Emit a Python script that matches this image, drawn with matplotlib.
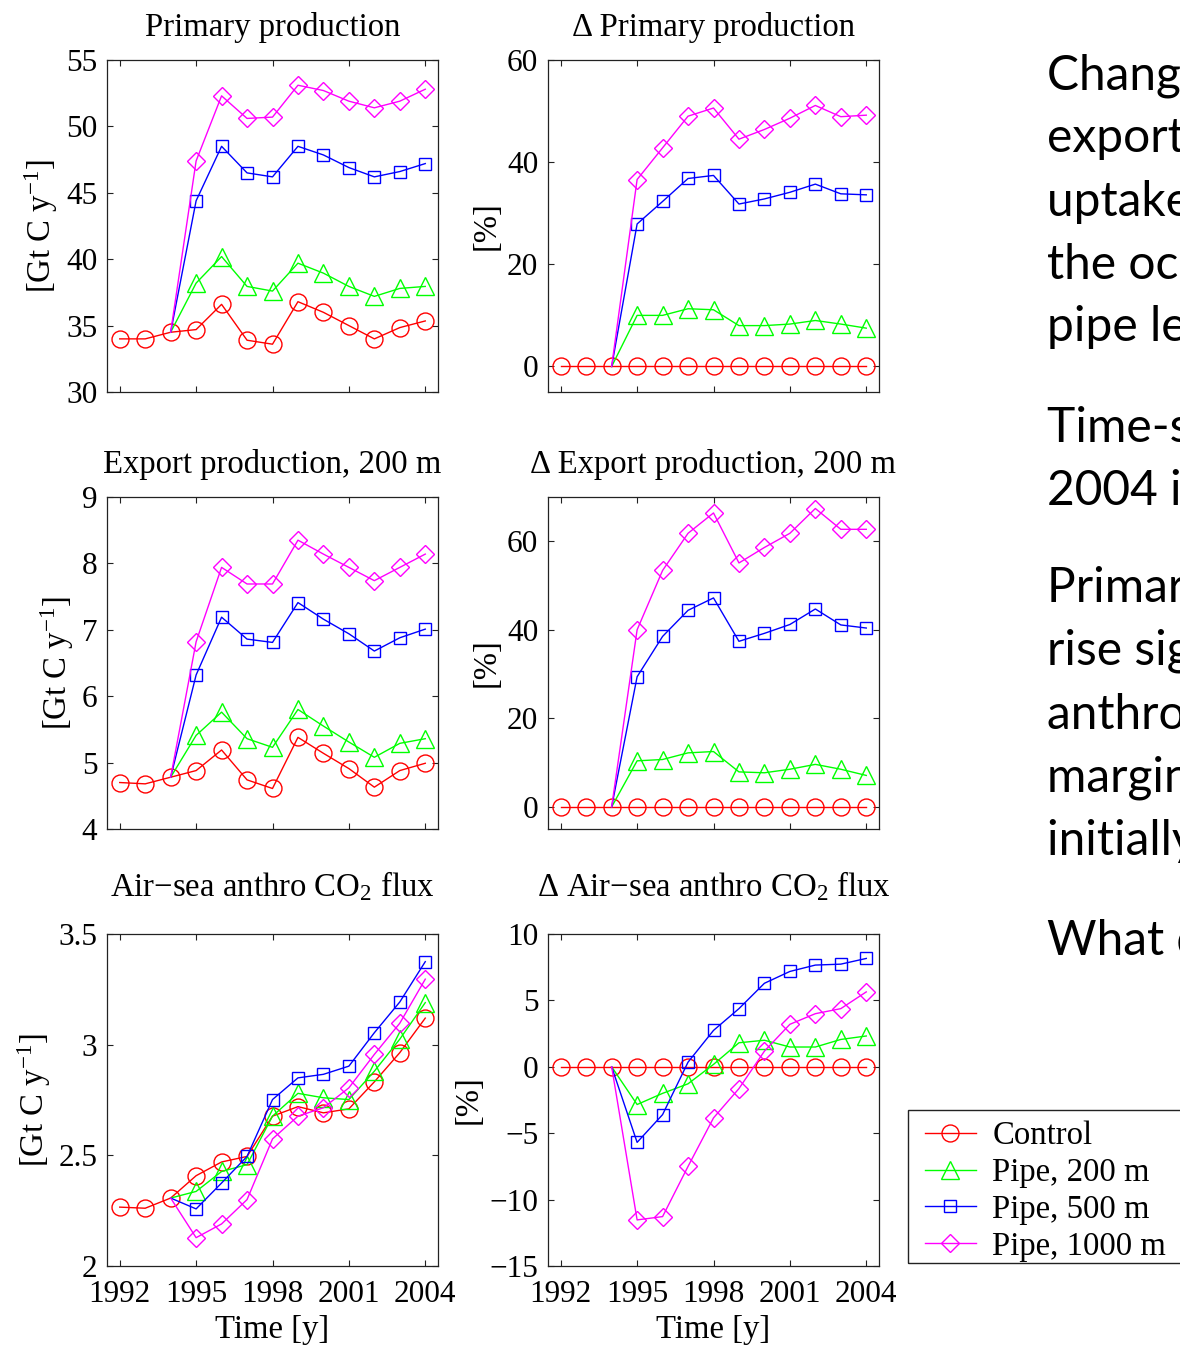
import matplotlib
matplotlib.use("Agg")
import matplotlib.pyplot as plt
from matplotlib.lines import Line2D
from matplotlib.patches import Rectangle
from matplotlib.ticker import FuncFormatter

# ---------------------------------------------------------------- data
years = list(range(1992, 2005))
pipe_years = list(range(1994, 2005))   # pipes switch on after 1994

series_names = ["Control", "Pipe, 200 m", "Pipe, 500 m", "Pipe, 1000 m"]

# Primary production [Gt C / y]
pp_control = [34.0, 34.0, 34.5, 34.7, 36.6, 33.9, 33.6, 36.8, 36.0, 35.0, 34.0, 34.85, 35.35]
pp_200 = [34.5, 38.2, 40.2, 37.95, 37.6, 39.7, 38.95, 37.95, 37.2, 37.8, 37.95]
pp_500 = [34.5, 44.4, 48.5, 46.5, 46.2, 48.5, 47.85, 46.9, 46.2, 46.6, 47.2]
pp_1000 = [34.5, 47.4, 52.3, 50.6, 50.7, 53.1, 52.7, 51.9, 51.4, 51.9, 52.8]

# Change in primary production [%]
dpp_control = [0.0] * 13
dpp_200 = [0.0, 10.0, 10.0, 11.3, 11.1, 8.0, 8.0, 8.3, 9.0, 8.3, 7.5]
dpp_500 = [0.0, 27.9, 32.3, 36.8, 37.4, 31.8, 32.8, 34.1, 35.7, 33.8, 33.6]
dpp_1000 = [0.0, 36.6, 42.8, 49.0, 50.6, 44.5, 46.4, 48.6, 51.1, 48.9, 49.2]

# Export production at 200 m [Gt C / y]
ep_control = [4.70, 4.68, 4.78, 4.88, 5.19, 4.74, 4.61, 5.38, 5.14, 4.91, 4.63, 4.88, 4.99]
ep_200 = [4.78, 5.41, 5.76, 5.36, 5.23, 5.80, 5.55, 5.31, 5.08, 5.29, 5.36]
ep_500 = [4.78, 6.32, 7.19, 6.86, 6.81, 7.41, 7.16, 6.94, 6.68, 6.88, 7.01]
ep_1000 = [4.78, 6.82, 7.94, 7.69, 7.69, 8.35, 8.14, 7.94, 7.74, 7.94, 8.14]

# Change in export production [%]
dep_control = [0.0] * 13
dep_200 = [0.0, 10.4, 10.7, 12.2, 12.5, 7.9, 7.7, 8.5, 9.6, 8.5, 7.1]
dep_500 = [0.0, 29.4, 38.5, 44.4, 47.2, 37.4, 39.2, 41.2, 44.7, 41.1, 40.4]
dep_1000 = [0.0, 40.0, 53.4, 61.8, 66.4, 55.1, 58.6, 61.8, 67.4, 62.7, 62.7]

# Air-sea anthropogenic CO2 flux [Gt C / y]
fx_control = [2.266, 2.261, 2.307, 2.408, 2.470, 2.495, 2.677, 2.720, 2.692, 2.710, 2.832, 2.964, 3.120]
fx_200 = [2.307, 2.337, 2.427, 2.458, 2.677, 2.780, 2.760, 2.752, 2.880, 3.025, 3.190]
fx_500 = [2.307, 2.258, 2.375, 2.495, 2.752, 2.850, 2.866, 2.903, 3.054, 3.193, 3.375]
fx_1000 = [2.307, 2.128, 2.190, 2.300, 2.574, 2.677, 2.715, 2.805, 2.956, 3.097, 3.296]

# Change in air-sea anthropogenic CO2 flux [%]
dfx_control = [0.0] * 13
dfx_200 = [0.0, -2.84, -2.0, -1.28, 0.18, 1.81, 2.0, 1.49, 1.49, 2.06, 2.32]
dfx_500 = [0.0, -5.69, -3.6, 0.35, 2.74, 4.38, 6.29, 7.18, 7.66, 7.73, 8.16]
dfx_1000 = [0.0, -11.53, -11.28, -7.5, -3.85, -1.64, 1.18, 3.2, 4.0, 4.38, 5.64]

x_ticks = [1992, 1995, 1998, 2001, 2004]

# Slide text beside the figure
slide_lines = [
    "Changes in primary and",
    "export production, and CO\u2082",
    "uptake by the ocean for",
    "the ocean-wide array at each",
    "pipe length",
    "Time-series from 1992 to",
    "2004 inclusive",
    "Primary and export production",
    "rise significantly, but",
    "anthropogenic CO\u2082 uptake only",
    "marginally (and it is",
    "initially reduced)",
    "What does this mean?",
]

# ---------------------------------------------------------------- style
plt.rcParams.update({
    "font.family": ["Liberation Serif", "DejaVu Serif"],
    "mathtext.fontset": "custom",
    "mathtext.rm": "Liberation Serif",
    "mathtext.it": "Liberation Serif:italic",
    "mathtext.bf": "Liberation Serif:bold",
    "axes.unicode_minus": True,
})

W, H = 1180, 1345
fig = plt.figure(figsize=(W / 100, H / 100), dpi=100)

styles = [
    dict(color="#ff0000", marker="o", ms=12.2),
    dict(color="#00ff00", marker="^", ms=12.5),
    dict(color="#0000ff", marker="s", ms=9.1),
    dict(color="#ff00ff", marker="D", ms=9.4),
]
LW, MEW = 1.0, 1.0
TICK_FS, LABEL_FS = 22.5, 23.6

col_left = [107, 548]
row_top = [60, 497, 934]
AX_W, AX_H = 331, 332

unit_label = r"[Gt C y$^{-1}$]"
panels = [
    ("Primary production", unit_label, (30, 55), [30, 35, 40, 45, 50, 55],
     pp_control, [pp_200, pp_500, pp_1000]),
    ("\u0394 Primary production", "[%]", (-5, 60), [0, 20, 40, 60],
     dpp_control, [dpp_200, dpp_500, dpp_1000]),
    ("Export production, 200 m", unit_label, (4, 9), [4, 5, 6, 7, 8, 9],
     ep_control, [ep_200, ep_500, ep_1000]),
    ("\u0394 Export production, 200 m", "[%]", (-5, 70), [0, 20, 40, 60],
     dep_control, [dep_200, dep_500, dep_1000]),
    ("Air\u2212sea anthro CO$_2$ flux", unit_label, (2, 3.5), [2, 2.5, 3, 3.5],
     fx_control, [fx_200, fx_500, fx_1000]),
    ("\u0394 Air\u2212sea anthro CO$_2$ flux", "[%]", (-15, 10), [-15, -10, -5, 0, 5, 10],
     dfx_control, [dfx_200, dfx_500, dfx_1000]),
]

tick_fmt = FuncFormatter(lambda v, pos: f"{v:g}".replace("-", "\u2212"))

for i, (title, ylab, ylim, yticks, ctrl, pipes) in enumerate(panels):
    r, c = divmod(i, 2)
    left, top = col_left[c], row_top[r]
    ax = fig.add_axes([left / W, 1 - (top + AX_H) / H, AX_W / W, AX_H / H])

    st = styles[0]
    ax.plot(years, ctrl, color=st["color"], lw=LW, marker=st["marker"], ms=st["ms"],
            mfc="none", mec=st["color"], mew=MEW, zorder=3)
    for vals, st in zip(pipes, styles[1:]):
        ax.plot(pipe_years, vals, color=st["color"], lw=LW, marker=st["marker"],
                ms=st["ms"], mfc="none", mec=st["color"], mew=MEW,
                markevery=slice(1, None), zorder=3)

    ax.set_xlim(1991.5, 2004.5)
    ax.set_ylim(*ylim)
    ax.set_xticks(x_ticks)
    ax.set_yticks(yticks)
    ax.yaxis.set_major_formatter(tick_fmt)
    ax.tick_params(direction="in", top=True, right=True, length=4.0, width=0.8,
                   labelsize=TICK_FS, color="#222222")
    ax.tick_params(axis="x", pad=10)
    ax.tick_params(axis="y", pad=7)
    for sp in ax.spines.values():
        sp.set_linewidth(0.9)
        sp.set_color("#222222")

    if r < 2:
        ax.set_xticklabels([])
        ax.set_title(title, fontsize=LABEL_FS, pad=17.5)
    else:
        ax.set_title(title, fontsize=LABEL_FS, pad=27)
        ax.set_xlabel("Time [y]", fontsize=LABEL_FS, labelpad=4)
    ax.set_ylabel(ylab, fontsize=LABEL_FS, labelpad=4)

# ---------------------------------------------------------------- legend
handles = [Line2D([], [], color=st["color"], lw=LW, marker=st["marker"], ms=st["ms"],
                  mfc="none", mec=st["color"], mew=MEW) for st in styles]
fig.legend(handles, series_names, loc="upper left",
           bbox_to_anchor=(925 / W, 1 - 1121 / H), frameon=False,
           borderpad=0, borderaxespad=0, handlelength=1.55, handletextpad=0.5,
           labelspacing=0.19, fontsize=LABEL_FS)
fig.add_artist(Rectangle((908 / W, 1 - 1263 / H), 400 / W, 153 / H,
                         transform=fig.transFigure, fill=False,
                         ec="#222222", lw=1.0))

# ---------------------------------------------------------------- slide text
baselines = [90, 152, 216, 279, 341, 442, 505, 602, 665, 729, 792, 855, 955]
for line, yb in zip(slide_lines, baselines):
    fig.text(1047 / W, 1 - yb / H, line, fontsize=34.5, va="baseline", ha="left",
             family=["Lato", "DejaVu Sans"], color="black")

fig.savefig("out.png", dpi=100)
